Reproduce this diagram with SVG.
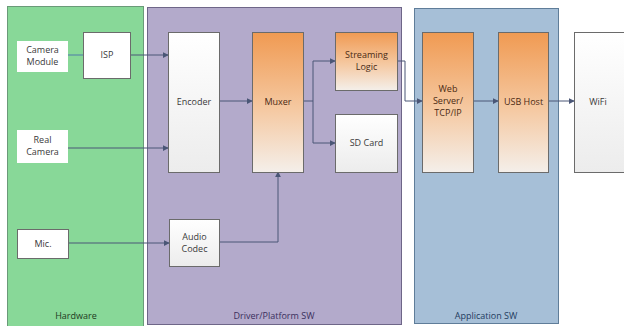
<svg xmlns="http://www.w3.org/2000/svg" width="624" height="326" viewBox="0 0 624 326">
  <defs>
    <linearGradient id="gOrange" x1="0" y1="0" x2="0" y2="1">
      <stop offset="0" stop-color="#f09a52"/>
      <stop offset="0.55" stop-color="#f5c9a2"/>
      <stop offset="1" stop-color="#f4efea"/>
    </linearGradient>
    <linearGradient id="gWhite" x1="0" y1="0" x2="0" y2="1">
      <stop offset="0" stop-color="#ffffff"/>
      <stop offset="1" stop-color="#ececec"/>
    </linearGradient>
    <marker id="arr" viewBox="0 0 8 8" refX="7" refY="4" markerWidth="6" markerHeight="6" orient="auto" markerUnits="userSpaceOnUse">
      <path d="M0,0 L8,4 L0,8 z" fill="#4a5676"/>
    </marker>
  </defs>
  <style>
    text { font-family: "Open Sans", "Liberation Sans", sans-serif; font-size: 9px; text-anchor: middle; }
    .box { stroke: #6b6b6b; stroke-width: 1; }
    .dark { fill: #3a3a3a; }
    .brown { fill: #4a2a14; }
    .conn { fill: none; stroke: #4a5676; stroke-width: 1; }
    .hw-conn { fill: none; stroke: #4f7aa8; stroke-width: 1; }
  </style>
  <rect width="624" height="326" fill="#ffffff"/>

  <!-- layer panels -->
  <g id="hardware">
    <rect x="7.5" y="6.5" width="136" height="320" fill="#88d898" stroke="#6a9a78"/>
    <text x="76" y="319" fill="#1e3a22">Hardware</text>
  </g>
  <g id="driver-platform-sw">
    <rect x="147.5" y="7.5" width="254" height="317" fill="#b3aacb" stroke="#6e6688"/>
    <text x="274" y="319" fill="#3a2f5c">Driver/Platform SW</text>
  </g>
  <g id="application-sw">
    <rect x="414.5" y="8.5" width="144" height="315" fill="#a6bfd7" stroke="#5f7d99"/>
    <text x="486" y="319" fill="#1f3c5e">Application SW</text>
  </g>

  <!-- connectors -->
  <g id="connectors">
    <path class="hw-conn" d="M68,55 H83"/>
    <path class="conn" d="M130,55 H168" marker-end="url(#arr)"/>
    <path class="conn" d="M68,148 H168" marker-end="url(#arr)"/>
    <path class="conn" d="M69,243 H169" marker-end="url(#arr)"/>
    <path class="conn" d="M219,101 H252" marker-end="url(#arr)"/>
    <path class="conn" d="M219,242 H278 V172" marker-end="url(#arr)"/>
    <path class="conn" d="M303,101 H313 V61 H335" marker-end="url(#arr)"/>
    <path class="conn" d="M313,101 V143 H335" marker-end="url(#arr)"/>
    <path class="conn" d="M397,61 H405 V101 H422" marker-end="url(#arr)"/>
    <path class="conn" d="M473,101 H498" marker-end="url(#arr)"/>
    <path class="conn" d="M548,101 H574" marker-end="url(#arr)"/>
  </g>

  <!-- hardware nodes -->
  <g id="camera-module">
    <rect x="17" y="41" width="51" height="31" fill="#ffffff"/>
    <text class="dark" x="42.5" y="53">Camera</text>
    <text class="dark" x="42.5" y="65">Module</text>
  </g>
  <g id="isp">
    <rect class="box" x="83.5" y="32.5" width="47" height="46" fill="#ffffff"/>
    <text class="dark" x="107" y="58">ISP</text>
  </g>
  <g id="real-camera">
    <rect x="17" y="130" width="51" height="33" fill="#ffffff"/>
    <text class="dark" x="42.5" y="143">Real</text>
    <text class="dark" x="42.5" y="155">Camera</text>
  </g>
  <g id="mic">
    <rect class="box" x="17.5" y="229.5" width="51" height="29" fill="#ffffff"/>
    <text class="dark" x="43" y="247">Mic.</text>
  </g>

  <!-- driver / platform nodes -->
  <g id="encoder">
    <rect class="box" x="168.5" y="32.5" width="51" height="140" fill="url(#gWhite)"/>
    <text class="dark" x="194" y="105">Encoder</text>
  </g>
  <g id="muxer">
    <rect class="box" x="252.5" y="32.5" width="51" height="140" fill="url(#gOrange)"/>
    <text class="brown" x="278" y="105">Muxer</text>
  </g>
  <g id="streaming-logic">
    <rect class="box" x="335.5" y="32.5" width="62" height="58" fill="url(#gOrange)"/>
    <text class="brown" x="366.5" y="58">Streaming</text>
    <text class="brown" x="366.5" y="70">Logic</text>
  </g>
  <g id="sd-card">
    <rect class="box" x="335.5" y="114.5" width="62" height="58" fill="url(#gWhite)"/>
    <text class="dark" x="366.5" y="146">SD Card</text>
  </g>
  <g id="audio-codec">
    <rect class="box" x="169.5" y="219.5" width="50" height="47" fill="url(#gWhite)"/>
    <text class="dark" x="194.5" y="240">Audio</text>
    <text class="dark" x="194.5" y="252">Codec</text>
  </g>

  <!-- application nodes -->
  <g id="web-server">
    <rect class="box" x="422.5" y="32.5" width="51" height="140" fill="url(#gOrange)"/>
    <text class="brown" x="448" y="92">Web</text>
    <text class="brown" x="448" y="104">Server/</text>
    <text class="brown" x="448" y="116">TCP/IP</text>
  </g>
  <g id="usb-host">
    <rect class="box" x="498.5" y="32.5" width="50" height="140" fill="url(#gOrange)"/>
    <text class="brown" x="523.5" y="105">USB Host</text>
  </g>
  <g id="wifi">
    <rect class="box" x="574.5" y="32.5" width="60" height="140" fill="url(#gWhite)"/>
    <text class="dark" x="598" y="105">WiFi</text>
  </g>
</svg>
